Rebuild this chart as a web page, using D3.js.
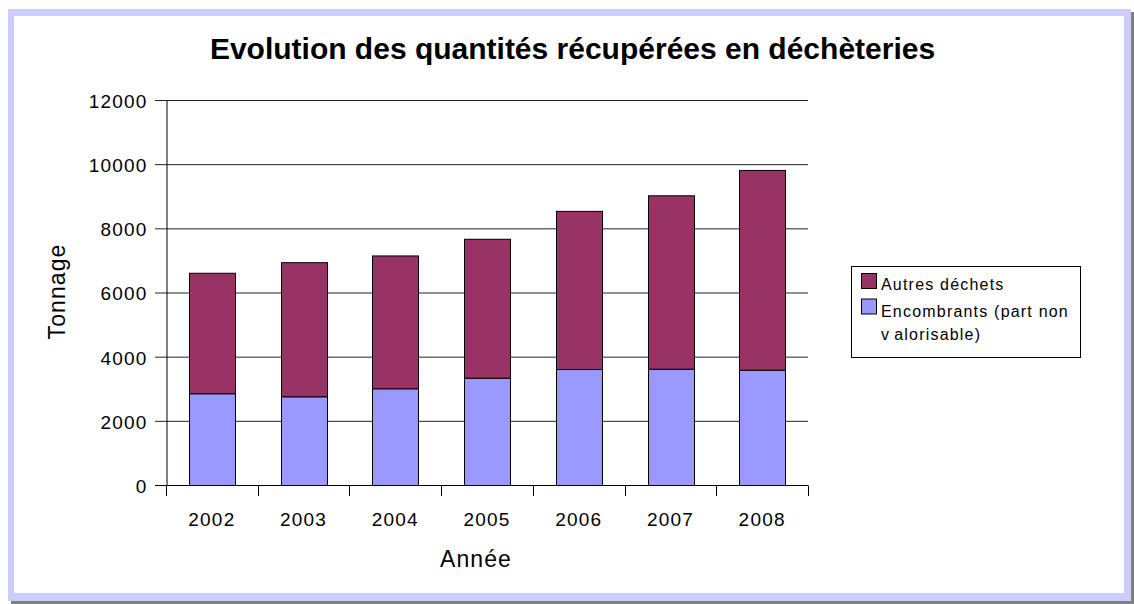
<!DOCTYPE html>
<html><head><meta charset="utf-8">
<script src="https://cdn.jsdelivr.net/npm/d3@7"></script>
<style>body{margin:0;background:#fff}svg{display:block}text{font-family:"Liberation Sans",Arial,sans-serif}</style>
</head><body>
<svg id="c" width="1134" height="604"></svg>
<script>
const years = ["2002","2003","2004","2005","2006","2007","2008"];
const encombrants = [2860, 2765, 3015, 3345, 3615, 3625, 3595];
const autres = [3755, 4180, 4140, 4330, 4930, 5405, 6225];
const yTicks = [0, 2000, 4000, 6000, 8000, 10000, 12000];
const seriesNames = ["Autres déchets", "Encombrants (part non valorisable)"];
const colors = {autres: "#993366", enc: "#9999FF"};

const svg = d3.select("#c");
// frame
svg.append("rect").attr("x",11).attr("y",12).attr("width",1123).attr("height",592).attr("fill","#808080");
svg.append("rect").attr("x",8).attr("y",9).attr("width",1123).attr("height",592).attr("fill","#CCCCFF");
svg.append("rect").attr("x",14).attr("y",16).attr("width",1110).attr("height",577).attr("fill","#fff");

const x = d3.scaleBand().domain(years).range([166, 808]).padding(0);
const y = d3.scaleLinear().domain([0, 12000]).range([485.5, 100.5]);

// gridlines
svg.append("g").selectAll("line").data(yTicks).join("line")
  .attr("x1",155).attr("x2",808).attr("y1",d=>y(d)).attr("y2",d=>y(d))
  .attr("stroke","#222").attr("stroke-width",1);

// y axis
const yAxis = d3.axisLeft(y).tickValues(yTicks).tickSize(0).tickPadding(0).tickFormat(d3.format("d"));
const gy = svg.append("g").attr("transform","translate(166.5,0)").call(yAxis);
gy.select(".domain").attr("stroke","#000");
gy.selectAll("text").attr("x",-19).attr("dy","0.36em").attr("font-size",19).attr("letter-spacing","1.2px")
  .attr("fill","#000").attr("font-family","Liberation Sans, Arial, sans-serif");

// bars
const data = years.map((yr,i)=>({yr, enc: encombrants[i], aut: autres[i]}));
const bw = x.bandwidth()*0.5, off = x.bandwidth()*0.25;
const g = svg.append("g");
g.selectAll("rect.enc").data(data).join("rect").attr("class","enc")
  .attr("x",d=>Math.round(x(d.yr)+off)+0.5).attr("width",Math.round(bw))
  .attr("y",d=>y(d.enc)).attr("height",d=>y(0)-y(d.enc))
  .attr("fill",colors.enc).attr("stroke","#000").attr("stroke-width",1);
g.selectAll("rect.aut").data(data).join("rect").attr("class","aut")
  .attr("x",d=>Math.round(x(d.yr)+off)+0.5).attr("width",Math.round(bw))
  .attr("y",d=>y(d.enc+d.aut)).attr("height",d=>y(d.enc)-y(d.enc+d.aut))
  .attr("fill",colors.autres).attr("stroke","#000").attr("stroke-width",1);

// x axis
const xAxis = d3.axisBottom(x).tickSize(0).tickPadding(0);
const gx = svg.append("g").attr("transform","translate(0,485.5)").call(xAxis);
gx.select(".domain").attr("stroke","#000").attr("d","M155,0H808");
gx.selectAll("text").attr("y",40).attr("dy",0).attr("font-size",19).attr("letter-spacing","1.2px")
  .attr("fill","#000").attr("font-family","Liberation Sans, Arial, sans-serif");
const bounds = years.map(d=>x(d)).concat([808]);
gx.selectAll("line.bt").data(bounds).join("line").attr("class","bt")
  .attr("x1",d=>Math.round(d)+0.5).attr("x2",d=>Math.round(d)+0.5).attr("y1",0).attr("y2",10.5).attr("stroke","#000");

// title
svg.append("text").attr("x",572.5).attr("y",59).attr("text-anchor","middle")
  .attr("font-size",30).attr("font-weight","bold").attr("fill","#000")
  .text("Evolution des quantités récupérées en déchèteries");

// axis titles
svg.append("text").attr("x",476).attr("y",566.5).attr("text-anchor","middle")
  .attr("font-size",23).attr("letter-spacing","1.1px").text("Année");
svg.append("text").attr("transform","translate(64.5,291.5) rotate(-90)").attr("text-anchor","middle")
  .attr("font-size",23).attr("letter-spacing","1.1px").text("Tonnage");

// legend
const lg = svg.append("g");
lg.append("rect").attr("x",851.5).attr("y",266.5).attr("width",229).attr("height",91)
  .attr("fill","#fff").attr("stroke","#000");
const legItems = [{name: seriesNames[0], c: colors.autres, y: 273}, {name: seriesNames[1], c: colors.enc, y: 298.5}];
lg.selectAll("rect.sw").data(legItems).join("rect").attr("class","sw")
  .attr("x",861.5).attr("y",d=>d.y+0.5).attr("width",15).attr("height",15)
  .attr("fill",d=>d.c).attr("stroke","#000");
lg.append("text").attr("x",881).attr("y",290).attr("font-size",16).attr("letter-spacing","1.2px").text(seriesNames[0]);
const t2 = lg.append("text").attr("x",881).attr("y",316.5).attr("font-size",16).attr("letter-spacing","1.2px");
t2.append("tspan").text("Encombrants (part non");
const t3 = lg.append("text").attr("x",881).attr("y",340).attr("font-size",16).attr("letter-spacing","1.2px");
t3.append("tspan").text("v");
t3.append("tspan").attr("dx",4).text("alorisable)");
</script>
</body></html>
